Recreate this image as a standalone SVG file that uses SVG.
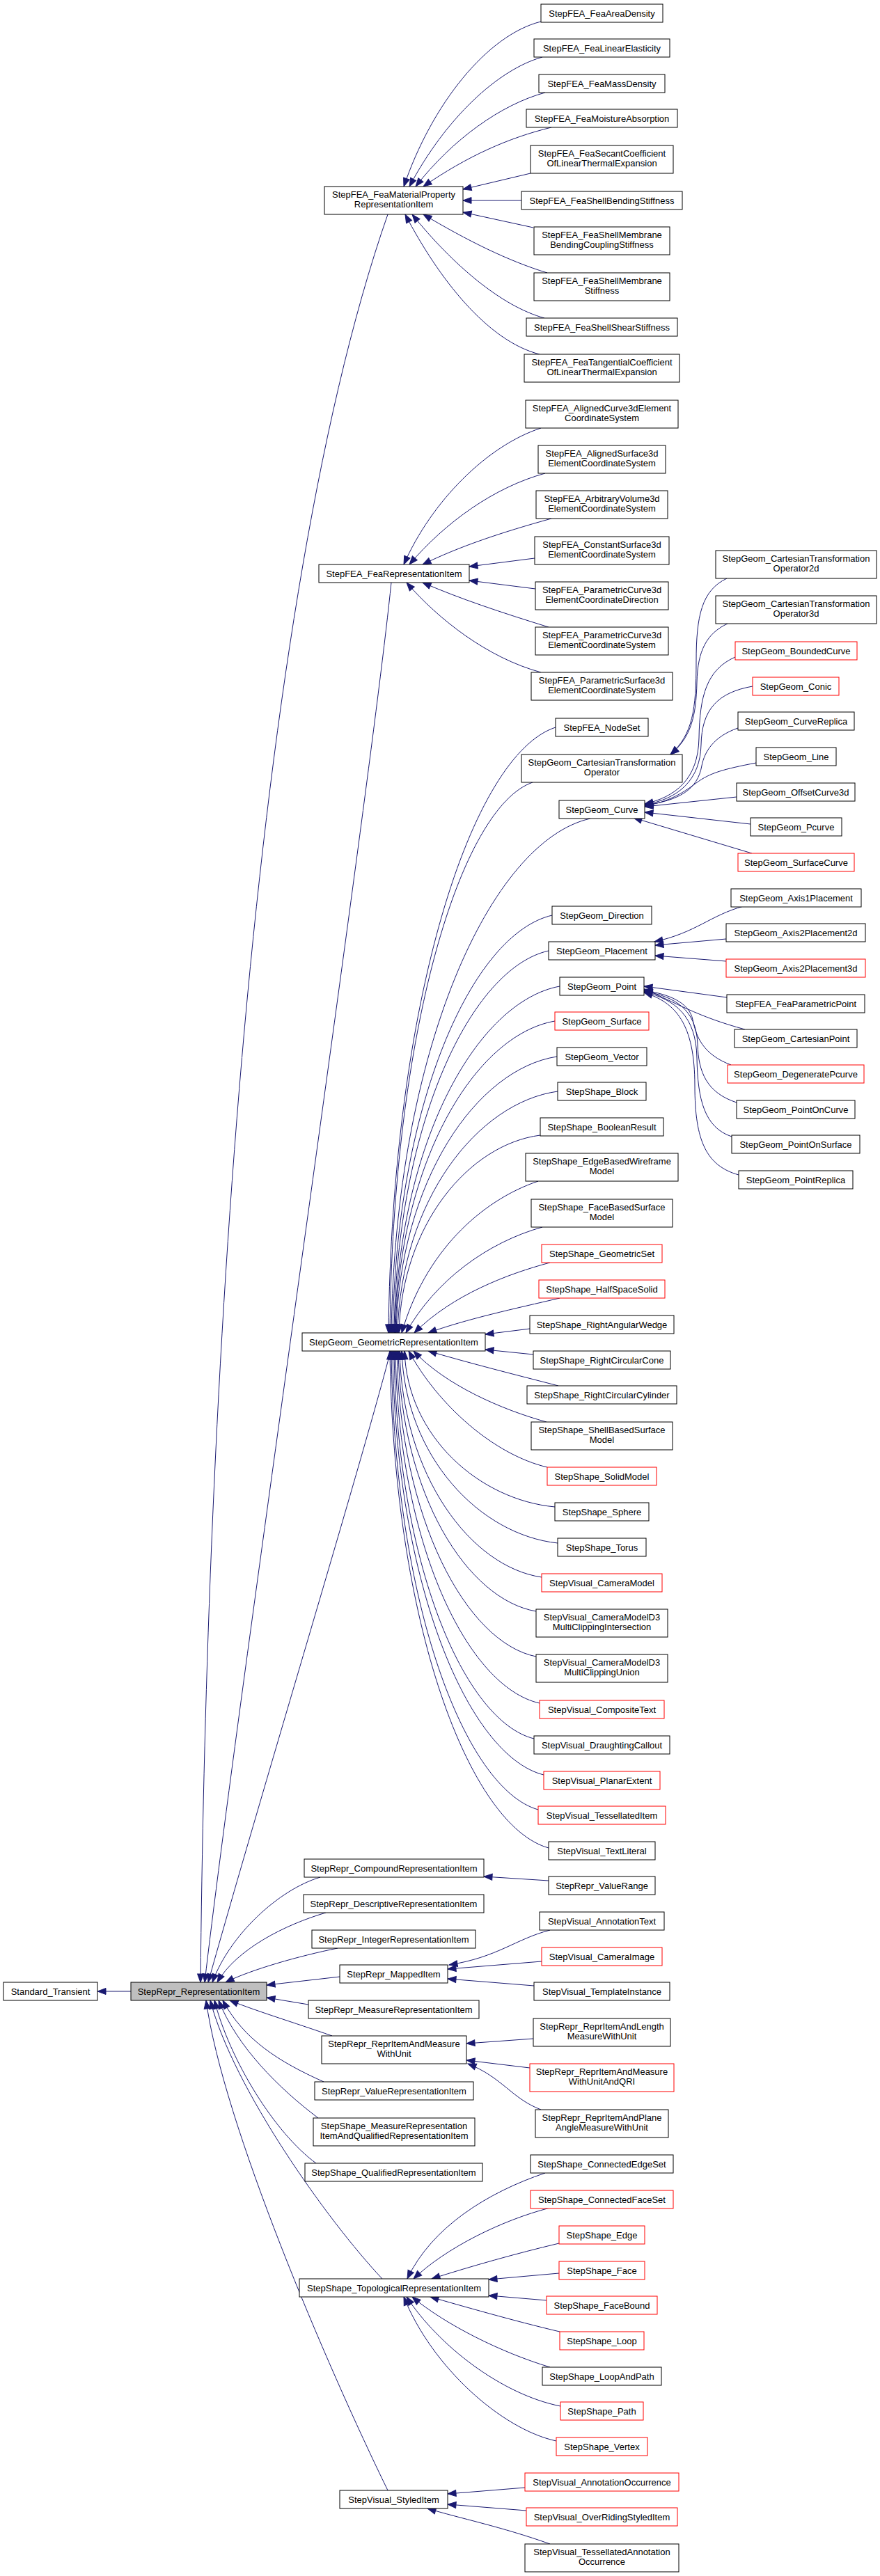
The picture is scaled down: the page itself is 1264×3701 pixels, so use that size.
<svg xmlns="http://www.w3.org/2000/svg" width="1264" height="3701" viewBox="0 0 1264 3701">
<style>
.n rect{fill:#fff;stroke:#000;stroke-width:1}
.r rect{fill:#fff;stroke:#ff0000;stroke-width:1}
.g rect{fill:#bfbfbf;stroke:#000;stroke-width:1}
text{font-family:"Liberation Sans",Arial,sans-serif;font-size:13px;text-anchor:middle;fill:#000}
#edges path{fill:none;stroke:#191970;stroke-width:1;marker-end:url(#ah)}
</style>
<defs>
<marker id="ah" markerUnits="userSpaceOnUse" markerWidth="13" markerHeight="10" refX="12" refY="4.5" orient="auto" overflow="visible">
<path d="M0,0 L12,4.5 L0,9 z" fill="#191970" stroke="#191970" stroke-width="1"/>
</marker>
</defs>
<rect x="0" y="0" width="1264" height="3701" fill="#fff"/>
<g id="edges">
<path d="M188,2861 L140,2861"/>
<path d="M557,308 C350,900 295,2100 288,2848"/>
<path d="M562,837 C530,1150 340,2450 294,2848"/>
<path d="M561,1941 C520,2100 380,2560 299,2848"/>
<path d="M460,2697 C400,2715 330,2780 305,2848"/>
<path d="M468,2748 C410,2765 340,2800 312,2848"/>
<path d="M485,2799 C430,2810 360,2830 324,2848"/>
<path d="M488,2840 L383,2852"/>
<path d="M443,2880 L383,2870"/>
<path d="M477,2925 C420,2905 370,2890 330,2874"/>
<path d="M465,2991 C400,2962 350,2930 320,2874"/>
<path d="M457,3043 C400,3000 340,2940 314,2874"/>
<path d="M454,3108 C395,3065 330,2960 308,2874"/>
<path d="M549,3274 C470,3190 335,3000 302,2874"/>
<path d="M557,3578 C470,3400 320,3050 296,2874"/>
<path d="M777,31 C700,50 620,150 580,268"/>
<path d="M779,82 C715,100 640,170 588,268"/>
<path d="M783,133 C720,150 650,200 597,268"/>
<path d="M792,183 C730,198 670,225 608,268"/>
<path d="M762,249 L665,272"/>
<path d="M749,288 L665,288"/>
<path d="M766,327 L665,305"/>
<path d="M786,392 C730,375 670,345 608,308"/>
<path d="M782,457 C720,440 650,380 592,308"/>
<path d="M775,509 C700,490 630,400 582,308"/>
<path d="M777,615 C700,640 620,720 580,811"/>
<path d="M783,680 C710,700 640,750 588,811"/>
<path d="M792,745 C720,765 660,785 607,811"/>
<path d="M768,802 L674,814"/>
<path d="M769,846 L674,834"/>
<path d="M788,901 C720,880 660,860 607,837"/>
<path d="M777,966 C700,945 630,890 584,837"/>
<path d="M798,1045 C678,1084 563,1436 558,1915"/>
<path d="M765,1124 C662,1160 564,1480 560,1915"/>
<path d="M848,1176 C705,1208 568,1508 562,1915"/>
<path d="M793,1315 C678,1342 569,1585 564,1915"/>
<path d="M788,1366 C677,1391 570,1613 566,1915"/>
<path d="M804,1417 C685,1439 572,1641 567,1915"/>
<path d="M797,1467 C682,1487 573,1669 568,1915"/>
<path d="M800,1518 C684,1536 574,1697 569,1915"/>
<path d="M801,1568 C686,1584 576,1724 571,1915"/>
<path d="M776,1631 C674,1644 577,1759 573,1915"/>
<path d="M773,1697 C690,1725 610,1800 577,1915"/>
<path d="M779,1763 C700,1785 625,1840 583,1915"/>
<path d="M790,1814 C730,1830 650,1860 595,1915"/>
<path d="M804,1865 C740,1880 670,1895 615,1915"/>
<path d="M761,1909 L697,1917"/>
<path d="M766,1946 L697,1939"/>
<path d="M802,1991 C740,1975 680,1960 615,1941"/>
<path d="M785,2043 C720,2025 640,1990 594,1941"/>
<path d="M786,2108 C710,2090 630,2020 587,1941"/>
<path d="M797,2165 C689,2155 585,2064 581,1941"/>
<path d="M801,2217 C689,2205 582,2093 577,1941"/>
<path d="M778,2266 C676,2251 578,2120 574,1941"/>
<path d="M770,2315 C671,2298 576,2147 572,1941"/>
<path d="M770,2380 C670,2360 574,2182 570,1941"/>
<path d="M775,2447 C672,2424 572,2219 568,1941"/>
<path d="M767,2498 C667,2473 570,2247 566,1941"/>
<path d="M781,2550 C673,2523 568,2276 564,1941"/>
<path d="M773,2600 C668,2570 566,2304 562,1941"/>
<path d="M788,2655 C674,2623 565,2334 560,1941"/>
<path d="M1044,831 C1008,848 1000,885 1000,950 C1000,1020 995,1055 963,1084"/>
<path d="M1045,896 C1015,910 1002,935 1001,980 C1000,1030 992,1060 963,1084"/>
<path d="M1056,944 C1015,962 1005,1000 1004,1060 C1003,1120 970,1145 926,1155"/>
<path d="M1081,986 C1030,995 1008,1020 1007,1070 C1006,1120 975,1148 926,1156"/>
<path d="M1060,1046 C1025,1058 1012,1080 1008,1100 C1002,1135 975,1150 926,1157"/>
<path d="M1086,1096 C1040,1105 1020,1110 1000,1125 C980,1140 960,1152 926,1158"/>
<path d="M1058,1145 L926,1159"/>
<path d="M1078,1184 L926,1167"/>
<path d="M1080,1226 L910,1175"/>
<path d="M1068,1302 C1020,1315 1000,1340 940,1353"/>
<path d="M1043,1349 L941,1358"/>
<path d="M1043,1381 L941,1373"/>
<path d="M1044,1433 L925,1417"/>
<path d="M1070,1479 C1000,1460 970,1440 925,1421"/>
<path d="M1050,1530 C1010,1515 1000,1490 995,1465 C990,1440 960,1428 925,1423"/>
<path d="M1058,1584 C1015,1570 1003,1540 1002,1500 C1000,1450 970,1432 925,1424"/>
<path d="M1051,1633 C1012,1620 1002,1580 1001,1520 C1000,1460 970,1436 925,1425"/>
<path d="M1061,1688 C1015,1675 998,1640 998,1560 C998,1470 970,1440 925,1426"/>
<path d="M788,2702 L695,2696"/>
<path d="M790,2773 C740,2786 715,2812 645,2823"/>
<path d="M778,2818 L643,2829"/>
<path d="M767,2853 L643,2843"/>
<path d="M766,2929 L670,2936"/>
<path d="M761,2971 L670,2960"/>
<path d="M777,3031 C735,3015 722,2985 672,2965"/>
<path d="M783,3122 C700,3150 620,3200 585,3274"/>
<path d="M790,3172 C720,3190 640,3230 594,3274"/>
<path d="M803,3223 C740,3238 680,3255 620,3274"/>
<path d="M803,3266 L702,3275"/>
<path d="M785,3305 L702,3298"/>
<path d="M804,3350 C740,3335 660,3312 618,3300"/>
<path d="M790,3401 C720,3380 640,3340 592,3300"/>
<path d="M805,3457 C720,3440 630,3370 584,3300"/>
<path d="M799,3507 C720,3490 620,3400 580,3300"/>
<path d="M754,3574 L643,3583"/>
<path d="M756,3607 L643,3598"/>
<path d="M790,3655 C720,3630 660,3618 614,3604"/>
</g>
<g id="n_st" class="n"><rect x="5" y="2848" width="135" height="26"/><text x="72.5" y="2865.5">Standard_Transient</text></g>
<g id="n_ri" class="g"><rect x="188" y="2848" width="195" height="26"/><text x="285.5" y="2865.5">StepRepr_RepresentationItem</text></g>
<g id="n_fmp" class="n"><rect x="466" y="268" width="199" height="40"/><text x="565.5" y="284">StepFEA_FeaMaterialProperty</text><text x="565.5" y="298">RepresentationItem</text></g>
<g id="n_fri" class="n"><rect x="458" y="811" width="216" height="26"/><text x="566" y="828.5">StepFEA_FeaRepresentationItem</text></g>
<g id="n_gri" class="n"><rect x="434" y="1915" width="263" height="26"/><text x="565.5" y="1932.5">StepGeom_GeometricRepresentationItem</text></g>
<g id="n_cri" class="n"><rect x="437" y="2671" width="258" height="26"/><text x="566" y="2688.5">StepRepr_CompoundRepresentationItem</text></g>
<g id="n_dri" class="n"><rect x="436" y="2722" width="259" height="26"/><text x="565.5" y="2739.5">StepRepr_DescriptiveRepresentationItem</text></g>
<g id="n_iri" class="n"><rect x="448" y="2773" width="235" height="26"/><text x="565.5" y="2790.5">StepRepr_IntegerRepresentationItem</text></g>
<g id="n_mi" class="n"><rect x="488" y="2823" width="155" height="26"/><text x="565.5" y="2840.5">StepRepr_MappedItem</text></g>
<g id="n_mri" class="n"><rect x="443" y="2874" width="245" height="26"/><text x="565.5" y="2891.5">StepRepr_MeasureRepresentationItem</text></g>
<g id="n_rimwu" class="n"><rect x="462" y="2925" width="208" height="40"/><text x="566" y="2941">StepRepr_ReprItemAndMeasure</text><text x="566" y="2955">WithUnit</text></g>
<g id="n_vri" class="n"><rect x="452" y="2991" width="228" height="26"/><text x="566" y="3008.5">StepRepr_ValueRepresentationItem</text></g>
<g id="n_smri" class="n"><rect x="450" y="3043" width="232" height="40"/><text x="566" y="3059">StepShape_MeasureRepresentation</text><text x="566" y="3073">ItemAndQualifiedRepresentationItem</text></g>
<g id="n_qri" class="n"><rect x="438" y="3108" width="255" height="26"/><text x="565.5" y="3125.5">StepShape_QualifiedRepresentationItem</text></g>
<g id="n_tri" class="n"><rect x="430" y="3274" width="272" height="26"/><text x="566" y="3291.5">StepShape_TopologicalRepresentationItem</text></g>
<g id="n_si" class="n"><rect x="488" y="3578" width="155" height="26"/><text x="565.5" y="3595.5">StepVisual_StyledItem</text></g>
<g id="fea_ad" class="n"><rect x="777" y="6" width="175" height="26"/><text x="864.5" y="23.5">StepFEA_FeaAreaDensity</text></g>
<g id="fea_le" class="n"><rect x="767" y="56" width="195" height="26"/><text x="864.5" y="73.5">StepFEA_FeaLinearElasticity</text></g>
<g id="fea_md" class="n"><rect x="774" y="107" width="181" height="26"/><text x="864.5" y="124.5">StepFEA_FeaMassDensity</text></g>
<g id="fea_ma" class="n"><rect x="756" y="157" width="217" height="26"/><text x="864.5" y="174.5">StepFEA_FeaMoistureAbsorption</text></g>
<g id="fea_sc" class="n"><rect x="762" y="209" width="205" height="40"/><text x="864.5" y="225">StepFEA_FeaSecantCoefficient</text><text x="864.5" y="239">OfLinearThermalExpansion</text></g>
<g id="fea_sbs" class="n"><rect x="749" y="275" width="231" height="26"/><text x="864.5" y="292.5">StepFEA_FeaShellBendingStiffness</text></g>
<g id="fea_smbcs" class="n"><rect x="767" y="326" width="195" height="40"/><text x="864.5" y="342">StepFEA_FeaShellMembrane</text><text x="864.5" y="356">BendingCouplingStiffness</text></g>
<g id="fea_sms" class="n"><rect x="767" y="392" width="195" height="40"/><text x="864.5" y="408">StepFEA_FeaShellMembrane</text><text x="864.5" y="422">Stiffness</text></g>
<g id="fea_sss" class="n"><rect x="756" y="457" width="217" height="26"/><text x="864.5" y="474.5">StepFEA_FeaShellShearStiffness</text></g>
<g id="fea_tc" class="n"><rect x="753" y="509" width="223" height="40"/><text x="864.5" y="525">StepFEA_FeaTangentialCoefficient</text><text x="864.5" y="539">OfLinearThermalExpansion</text></g>
<g id="fea_ac" class="n"><rect x="755" y="575" width="219" height="40"/><text x="864.5" y="591">StepFEA_AlignedCurve3dElement</text><text x="864.5" y="605">CoordinateSystem</text></g>
<g id="fea_as" class="n"><rect x="773" y="640" width="183" height="40"/><text x="864.5" y="656">StepFEA_AlignedSurface3d</text><text x="864.5" y="670">ElementCoordinateSystem</text></g>
<g id="fea_av" class="n"><rect x="770" y="705" width="189" height="40"/><text x="864.5" y="721">StepFEA_ArbitraryVolume3d</text><text x="864.5" y="735">ElementCoordinateSystem</text></g>
<g id="fea_cs" class="n"><rect x="768" y="771" width="193" height="40"/><text x="864.5" y="787">StepFEA_ConstantSurface3d</text><text x="864.5" y="801">ElementCoordinateSystem</text></g>
<g id="fea_pcd" class="n"><rect x="769" y="836" width="191" height="40"/><text x="864.5" y="852">StepFEA_ParametricCurve3d</text><text x="864.5" y="866">ElementCoordinateDirection</text></g>
<g id="fea_pcs" class="n"><rect x="769" y="901" width="191" height="40"/><text x="864.5" y="917">StepFEA_ParametricCurve3d</text><text x="864.5" y="931">ElementCoordinateSystem</text></g>
<g id="fea_ps" class="n"><rect x="763" y="966" width="203" height="40"/><text x="864.5" y="982">StepFEA_ParametricSurface3d</text><text x="864.5" y="996">ElementCoordinateSystem</text></g>
<g id="fea_ns" class="n"><rect x="798" y="1032" width="133" height="26"/><text x="864.5" y="1049.5">StepFEA_NodeSet</text></g>
<g id="g_cto" class="n"><rect x="749" y="1084" width="231" height="40"/><text x="864.5" y="1100">StepGeom_CartesianTransformation</text><text x="864.5" y="1114">Operator</text></g>
<g id="g_curve" class="n"><rect x="803" y="1150" width="123" height="26"/><text x="864.5" y="1167.5">StepGeom_Curve</text></g>
<g id="g_dir" class="n"><rect x="793" y="1302" width="143" height="26"/><text x="864.5" y="1319.5">StepGeom_Direction</text></g>
<g id="g_plac" class="n"><rect x="788" y="1353" width="153" height="26"/><text x="864.5" y="1370.5">StepGeom_Placement</text></g>
<g id="g_point" class="n"><rect x="804" y="1404" width="121" height="26"/><text x="864.5" y="1421.5">StepGeom_Point</text></g>
<g id="g_surf" class="r"><rect x="797" y="1454" width="135" height="26"/><text x="864.5" y="1471.5">StepGeom_Surface</text></g>
<g id="g_vec" class="n"><rect x="800" y="1505" width="129" height="26"/><text x="864.5" y="1522.5">StepGeom_Vector</text></g>
<g id="s_block" class="n"><rect x="801" y="1555" width="127" height="26"/><text x="864.5" y="1572.5">StepShape_Block</text></g>
<g id="s_br" class="n"><rect x="776" y="1606" width="177" height="26"/><text x="864.5" y="1623.5">StepShape_BooleanResult</text></g>
<g id="s_ebw" class="n"><rect x="755" y="1657" width="219" height="40"/><text x="864.5" y="1673">StepShape_EdgeBasedWireframe</text><text x="864.5" y="1687">Model</text></g>
<g id="s_fbs" class="n"><rect x="763" y="1723" width="203" height="40"/><text x="864.5" y="1739">StepShape_FaceBasedSurface</text><text x="864.5" y="1753">Model</text></g>
<g id="s_gs" class="r"><rect x="778" y="1788" width="173" height="26"/><text x="864.5" y="1805.5">StepShape_GeometricSet</text></g>
<g id="s_hss" class="r"><rect x="774" y="1839" width="181" height="26"/><text x="864.5" y="1856.5">StepShape_HalfSpaceSolid</text></g>
<g id="s_raw" class="n"><rect x="761" y="1890" width="207" height="26"/><text x="864.5" y="1907.5">StepShape_RightAngularWedge</text></g>
<g id="s_rcc" class="n"><rect x="766" y="1941" width="197" height="26"/><text x="864.5" y="1958.5">StepShape_RightCircularCone</text></g>
<g id="s_rccy" class="n"><rect x="757" y="1991" width="215" height="26"/><text x="864.5" y="2008.5">StepShape_RightCircularCylinder</text></g>
<g id="s_sbs" class="n"><rect x="763" y="2043" width="203" height="40"/><text x="864.5" y="2059">StepShape_ShellBasedSurface</text><text x="864.5" y="2073">Model</text></g>
<g id="s_sm" class="r"><rect x="786" y="2108" width="157" height="26"/><text x="864.5" y="2125.5">StepShape_SolidModel</text></g>
<g id="s_sph" class="n"><rect x="797" y="2159" width="135" height="26"/><text x="864.5" y="2176.5">StepShape_Sphere</text></g>
<g id="s_tor" class="n"><rect x="801" y="2210" width="127" height="26"/><text x="864.5" y="2227.5">StepShape_Torus</text></g>
<g id="v_cm" class="r"><rect x="778" y="2261" width="173" height="26"/><text x="864.5" y="2278.5">StepVisual_CameraModel</text></g>
<g id="v_cmi" class="n"><rect x="770" y="2312" width="189" height="40"/><text x="864.5" y="2328">StepVisual_CameraModelD3</text><text x="864.5" y="2342">MultiClippingIntersection</text></g>
<g id="v_cmu" class="n"><rect x="770" y="2377" width="189" height="40"/><text x="864.5" y="2393">StepVisual_CameraModelD3</text><text x="864.5" y="2407">MultiClippingUnion</text></g>
<g id="v_ct" class="r"><rect x="775" y="2443" width="179" height="26"/><text x="864.5" y="2460.5">StepVisual_CompositeText</text></g>
<g id="v_dc" class="n"><rect x="767" y="2494" width="195" height="26"/><text x="864.5" y="2511.5">StepVisual_DraughtingCallout</text></g>
<g id="v_pe" class="r"><rect x="781" y="2545" width="167" height="26"/><text x="864.5" y="2562.5">StepVisual_PlanarExtent</text></g>
<g id="v_ti" class="r"><rect x="773" y="2595" width="183" height="26"/><text x="864.5" y="2612.5">StepVisual_TessellatedItem</text></g>
<g id="v_tl" class="n"><rect x="788" y="2646" width="153" height="26"/><text x="864.5" y="2663.5">StepVisual_TextLiteral</text></g>
<g id="r_vr" class="n"><rect x="788" y="2696" width="153" height="26"/><text x="864.5" y="2713.5">StepRepr_ValueRange</text></g>
<g id="v_at" class="n"><rect x="775" y="2747" width="179" height="26"/><text x="864.5" y="2764.5">StepVisual_AnnotationText</text></g>
<g id="v_ci" class="r"><rect x="778" y="2798" width="173" height="26"/><text x="864.5" y="2815.5">StepVisual_CameraImage</text></g>
<g id="v_tin" class="n"><rect x="767" y="2848" width="195" height="26"/><text x="864.5" y="2865.5">StepVisual_TemplateInstance</text></g>
<g id="r_rilm" class="n"><rect x="766" y="2900" width="197" height="40"/><text x="864.5" y="2916">StepRepr_ReprItemAndLength</text><text x="864.5" y="2930">MeasureWithUnit</text></g>
<g id="r_qri" class="r"><rect x="761" y="2965" width="207" height="40"/><text x="864.5" y="2981">StepRepr_ReprItemAndMeasure</text><text x="864.5" y="2995">WithUnitAndQRI</text></g>
<g id="r_ripa" class="n"><rect x="769" y="3031" width="191" height="40"/><text x="864.5" y="3047">StepRepr_ReprItemAndPlane</text><text x="864.5" y="3061">AngleMeasureWithUnit</text></g>
<g id="s_ces" class="n"><rect x="762" y="3096" width="205" height="26"/><text x="864.5" y="3113.5">StepShape_ConnectedEdgeSet</text></g>
<g id="s_cfs" class="r"><rect x="762" y="3147" width="205" height="26"/><text x="864.5" y="3164.5">StepShape_ConnectedFaceSet</text></g>
<g id="s_edge" class="r"><rect x="803" y="3198" width="123" height="26"/><text x="864.5" y="3215.5">StepShape_Edge</text></g>
<g id="s_face" class="r"><rect x="803" y="3249" width="123" height="26"/><text x="864.5" y="3266.5">StepShape_Face</text></g>
<g id="s_fb" class="r"><rect x="785" y="3299" width="159" height="26"/><text x="864.5" y="3316.5">StepShape_FaceBound</text></g>
<g id="s_loop" class="r"><rect x="804" y="3350" width="121" height="26"/><text x="864.5" y="3367.5">StepShape_Loop</text></g>
<g id="s_lap" class="n"><rect x="779" y="3401" width="171" height="26"/><text x="864.5" y="3418.5">StepShape_LoopAndPath</text></g>
<g id="s_path" class="r"><rect x="805" y="3451" width="119" height="26"/><text x="864.5" y="3468.5">StepShape_Path</text></g>
<g id="s_vert" class="r"><rect x="799" y="3502" width="131" height="26"/><text x="864.5" y="3519.5">StepShape_Vertex</text></g>
<g id="v_ao" class="r"><rect x="754" y="3553" width="221" height="26"/><text x="864.5" y="3570.5">StepVisual_AnnotationOccurrence</text></g>
<g id="v_ors" class="r"><rect x="756" y="3603" width="217" height="26"/><text x="864.5" y="3620.5">StepVisual_OverRidingStyledItem</text></g>
<g id="v_tao" class="n"><rect x="754" y="3655" width="221" height="40"/><text x="864.5" y="3671">StepVisual_TessellatedAnnotation</text><text x="864.5" y="3685">Occurrence</text></g>
<g id="g_cto2" class="n"><rect x="1028" y="791" width="231" height="40"/><text x="1143.5" y="807">StepGeom_CartesianTransformation</text><text x="1143.5" y="821">Operator2d</text></g>
<g id="g_cto3" class="n"><rect x="1028" y="856" width="231" height="40"/><text x="1143.5" y="872">StepGeom_CartesianTransformation</text><text x="1143.5" y="886">Operator3d</text></g>
<g id="g_bc" class="r"><rect x="1056" y="922" width="175" height="26"/><text x="1143.5" y="939.5">StepGeom_BoundedCurve</text></g>
<g id="g_con" class="r"><rect x="1081" y="973" width="124" height="26"/><text x="1143" y="990.5">StepGeom_Conic</text></g>
<g id="g_cr" class="n"><rect x="1060" y="1023" width="167" height="26"/><text x="1143.5" y="1040.5">StepGeom_CurveReplica</text></g>
<g id="g_line" class="n"><rect x="1086" y="1074" width="115" height="26"/><text x="1143.5" y="1091.5">StepGeom_Line</text></g>
<g id="g_oc" class="n"><rect x="1058" y="1125" width="170" height="26"/><text x="1143" y="1142.5">StepGeom_OffsetCurve3d</text></g>
<g id="g_pc" class="n"><rect x="1078" y="1175" width="131" height="26"/><text x="1143.5" y="1192.5">StepGeom_Pcurve</text></g>
<g id="g_sc" class="r"><rect x="1060" y="1226" width="167" height="26"/><text x="1143.5" y="1243.5">StepGeom_SurfaceCurve</text></g>
<g id="g_a1" class="n"><rect x="1050" y="1277" width="187" height="26"/><text x="1143.5" y="1294.5">StepGeom_Axis1Placement</text></g>
<g id="g_a2d" class="n"><rect x="1043" y="1327" width="200" height="26"/><text x="1143" y="1344.5">StepGeom_Axis2Placement2d</text></g>
<g id="g_a3d" class="r"><rect x="1043" y="1378" width="200" height="26"/><text x="1143" y="1395.5">StepGeom_Axis2Placement3d</text></g>
<g id="f_pp" class="n"><rect x="1044" y="1429" width="198" height="26"/><text x="1143" y="1446.5">StepFEA_FeaParametricPoint</text></g>
<g id="g_cp" class="n"><rect x="1055" y="1479" width="176" height="26"/><text x="1143" y="1496.5">StepGeom_CartesianPoint</text></g>
<g id="g_dp" class="r"><rect x="1045" y="1530" width="196" height="26"/><text x="1143" y="1547.5">StepGeom_DegeneratePcurve</text></g>
<g id="g_poc" class="n"><rect x="1058" y="1581" width="170" height="26"/><text x="1143" y="1598.5">StepGeom_PointOnCurve</text></g>
<g id="g_pos" class="n"><rect x="1051" y="1631" width="184" height="26"/><text x="1143" y="1648.5">StepGeom_PointOnSurface</text></g>
<g id="g_pr" class="n"><rect x="1061" y="1682" width="164" height="26"/><text x="1143" y="1699.5">StepGeom_PointReplica</text></g>
</svg>
